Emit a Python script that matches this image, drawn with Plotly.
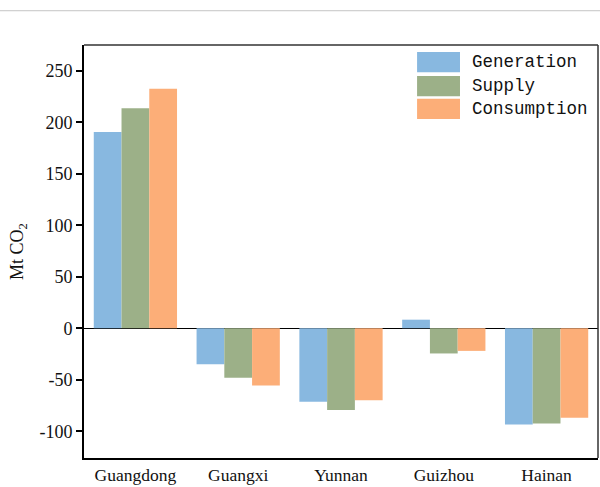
import plotly.graph_objects as go

provinces = ["Guangdong", "Guangxi", "Yunnan", "Guizhou", "Hainan"]
generation = [190.5, -35, -71.5, 8.3, -93.5]
supply = [213.5, -48, -79.5, -24.5, -92.5]
consumption = [232.5, -55.5, -70, -22, -87]

series_names = ["Generation", "Supply", "Consumption"]
series_colors = ["#88B8E0", "#9CB088", "#FCAE78"]
series_values = [generation, supply, consumption]

ytick_vals = [-100, -50, 0, 50, 100, 150, 200, 250]
ytick_text = ["-100", "-50", "0", "50", "100", "150", "200", "250"]

serif = "Liberation Serif, Times New Roman, serif"
mono = "Liberation Mono, Courier New, monospace"

fig = go.Figure()
for name, color, vals in zip(series_names, series_colors, series_values):
    fig.add_trace(go.Bar(x=provinces, y=vals, name=name,
                         marker=dict(color=color, line=dict(width=0))))

shapes = []
annotations = []
# top gray rule
shapes.append(dict(type="line", xref="paper", yref="paper", x0=-0.17, x1=1.01,
                   y0=1.083, y1=1.083, line=dict(color="#c4c4c4", width=1)))
# top and right frame
shapes.append(dict(type="line", xref="paper", yref="paper", x0=0, x1=1,
                   y0=1, y1=1, line=dict(color="#333333", width=1.5)))
shapes.append(dict(type="line", xref="paper", yref="paper", x0=1, x1=1,
                   y0=0, y1=1, line=dict(color="#333333", width=1.5)))

# custom legend with large swatches
leg_top = [0.983, 0.925, 0.870]
leg_h = 0.049
for i, (name, color) in enumerate(zip(series_names, series_colors)):
    y1 = leg_top[i]
    y0 = y1 - leg_h
    shapes.append(dict(type="rect", xref="paper", yref="paper",
                       x0=0.648, x1=0.7315, y0=y0, y1=y1,
                       fillcolor=color, line=dict(width=0)))
    annotations.append(dict(xref="paper", yref="paper", x=0.751, y=(y0 + y1) / 2,
                            text=name, showarrow=False, xanchor="left",
                            yanchor="middle",
                            font=dict(family=mono, size=17.5, color="#111111")))

fig.update_layout(
    width=600, height=487,
    margin=dict(l=84, r=2, t=45, b=26),
    paper_bgcolor="white", plot_bgcolor="white",
    barmode="group", bargap=0.19, bargroupgap=0,
    showlegend=False,
    shapes=shapes, annotations=annotations,
    font=dict(family=serif, size=18, color="#111111"),
    xaxis=dict(showline=True, linecolor="black", linewidth=2, ticks="",
               showgrid=False, tickfont=dict(family=serif, size=17.5)),
    yaxis=dict(range=[-126, 275], showline=True, linecolor="black", linewidth=2,
               ticks="outside", ticklen=6, tickwidth=1.5, tickcolor="black",
               tickvals=ytick_vals, ticktext=ytick_text,
               showgrid=False, zeroline=True, zerolinecolor="black",
               zerolinewidth=1,
               tickfont=dict(family=serif, size=18),
               title=dict(text="Mt CO<sub>2</sub>", standoff=11,
                          font=dict(family=serif, size=18))),
)

fig.write_html("out.html", config={"displayModeBar": False},
               post_script="document.body.style.margin='0';document.body.style.overflow='hidden';")
